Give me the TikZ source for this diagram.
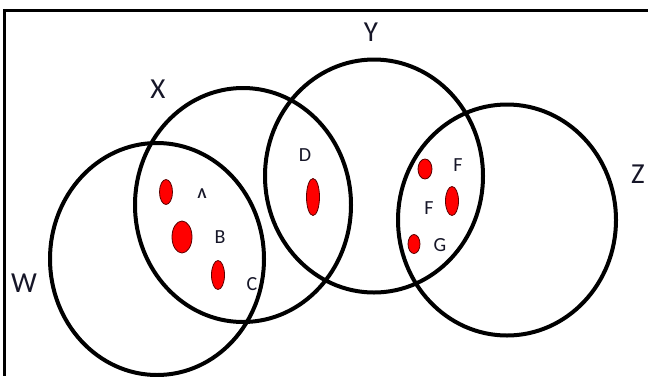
\documentclass[tikz,border=0pt]{standalone}
\usepackage{fontspec}
\setmainfont{Carlito}
\usetikzlibrary{shapes.geometric}
\definecolor{labelcol}{RGB}{22,22,40}
\definecolor{dotedge}{RGB}{90,0,0}
\tikzset{
  setring/.style={draw=black, line width=4pt, shape=ellipse, inner sep=0pt, outer sep=0pt},
  reddot/.style={draw=dotedge, fill=red, line width=0.8pt, shape=ellipse, inner sep=0pt, outer sep=0pt},
  biglabel/.style={text=labelcol, font=\fontsize{29}{32}\selectfont, inner sep=0pt},
  smalllabel/.style={text=labelcol, font=\fontsize{20}{22}\selectfont, inner sep=0pt}
}
\begin{document}
\begin{tikzpicture}[x=1pt,y=-1pt]
\useasboundingbox (0,0) rectangle (648,376);
\fill[white] (0,0) rectangle (648,376);
% frame
\coordinate (ftr) at (648,10);
\coordinate (ftl) at (4.5,10);
\coordinate (fbl) at (4.5,376);
\draw[line width=3pt] (ftr) -- (ftl) -- (fbl);
% sets
\node[setring, minimum width=214pt, minimum height=232pt] (W) at (157,259) {};
\node[setring, minimum width=216pt, minimum height=234pt] (X) at (243,205) {};
\node[setring, minimum width=218pt, minimum height=233pt] (Y) at (374,176) {};
\node[setring, minimum width=218pt, minimum height=231pt] (Z) at (507,220) {};
% set labels
\node[biglabel] (lY) at (371,32) {Y};
\node[biglabel] (lX) at (158,89) {X};
\node[biglabel] (lW) at (24,283) {W};
\node[biglabel] (lZ) at (638,174) {Z};
% elements
\node[reddot, minimum width=13pt, minimum height=25pt] (dA) at (166,192) {};
\node[reddot, minimum width=20pt, minimum height=32pt] (dB) at (182,237) {};
\node[reddot, minimum width=13pt, minimum height=29pt] (dC) at (218,275) {};
\node[reddot, minimum width=13pt, minimum height=37pt] (dD) at (313,197) {};
\node[reddot, minimum width=14pt, minimum height=20pt] (dF1) at (425,169) {};
\node[reddot, minimum width=13pt, minimum height=29pt] (dF2) at (452,201) {};
\node[reddot, minimum width=12pt, minimum height=19pt] (dG) at (414,244) {};
% element labels
\node[text=labelcol, font=\bfseries\fontsize{15}{16}\selectfont, inner sep=0pt] (lA) at (202,194) {Λ};
\node[smalllabel] (lB) at (220,237) {B};
\node[smalllabel] (lC) at (252,284) {C};
\node[smalllabel] (lD) at (305,155) {D};
\node[smalllabel] (lF1) at (458,165) {F};
\node[smalllabel] (lF2) at (429,208) {F};
\node[smalllabel, fill=white, inner sep=2pt] (lG) at (440,245) {G};
\end{tikzpicture}
\end{document}
